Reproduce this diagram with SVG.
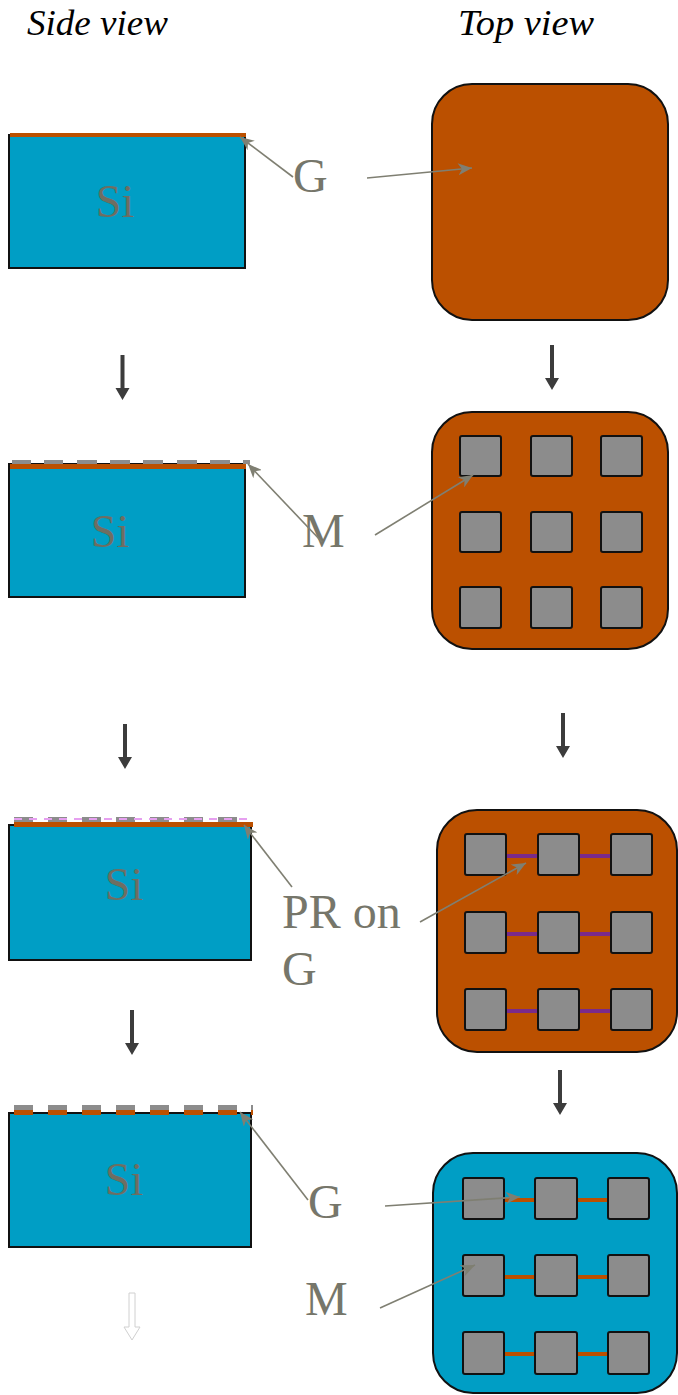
<svg xmlns="http://www.w3.org/2000/svg" width="678" height="1395" viewBox="0 0 678 1395">
<defs>
<style>
.title{font-family:"Liberation Serif",serif;font-style:italic;font-size:36px;fill:#000}
.si{font-family:"Liberation Serif",serif;font-size:46px;fill:#6e6e62;text-anchor:middle}
.lbl{font-family:"Liberation Serif",serif;font-size:48px;fill:#76766a}
.sub{fill:#009ec5;stroke:#111;stroke-width:2}
.brown{fill:#bb5000}
.greyd{fill:#8c8c8c}
.wafer-b{fill:#bb5000;stroke:#111;stroke-width:2}
.wafer-s{fill:#009ec5;stroke:#111;stroke-width:2}
.sq{fill:#8c8c8c;stroke:#111;stroke-width:2}
.pl{stroke:#7a2a8a;stroke-width:4}
.ol{stroke:#bb5000;stroke-width:4}
.ann{stroke:#7f7f72;stroke-width:1.6;fill:none;marker-end:url(#ah)}
.down{fill:#3c3c3c}
</style>
<marker id="ah" markerUnits="userSpaceOnUse" markerWidth="16" markerHeight="12" refX="14" refY="6" orient="auto">
<path d="M0,0 L14,6 L0,12 L4,6 z" fill="#7f7f72"/>
</marker>
<path id="dn" d="M-2,0 H2 V33 H7 L0,45 L-7,33 H-2 z"/>
</defs>

<text class="title" x="27" y="35" textLength="141" lengthAdjust="spacingAndGlyphs">Side view</text>
<text class="title" x="458" y="35" textLength="136" lengthAdjust="spacingAndGlyphs">Top view</text>

<g id="side1">
<rect class="sub" x="9" y="135" width="236" height="133"/>
<rect class="brown" x="10" y="133" width="236" height="4"/>
<text class="si" x="115" y="217">Si</text>
</g>
<g id="top1">
<rect class="wafer-b" x="432" y="84" width="236" height="236" rx="40"/>
</g>

<g id="side2">
<rect class="sub" x="9" y="464" width="236" height="133"/>
<rect class="brown" x="10" y="464" width="236" height="5"/>
<g class="greyd">
<rect x="12" y="460" width="19" height="4"/><rect x="44" y="460" width="19" height="4"/><rect x="77" y="460" width="20" height="4"/><rect x="110" y="460" width="20" height="4"/><rect x="143" y="460" width="20" height="4"/><rect x="177" y="460" width="20" height="4"/><rect x="210" y="460" width="20" height="4"/><rect x="243" y="460" width="7" height="4"/>
</g>
<text class="si" x="110" y="547">Si</text>
</g>
<g id="top2">
<rect class="wafer-b" x="432" y="412" width="236" height="237" rx="40"/>
<rect class="sq" x="460" y="436" width="41" height="40" rx="2"/><rect class="sq" x="531" y="436" width="41" height="40" rx="2"/><rect class="sq" x="601" y="436" width="41" height="40" rx="2"/>
<rect class="sq" x="460" y="512" width="41" height="40" rx="2"/><rect class="sq" x="531" y="512" width="41" height="40" rx="2"/><rect class="sq" x="601" y="512" width="41" height="40" rx="2"/>
<rect class="sq" x="460" y="587" width="41" height="41" rx="2"/><rect class="sq" x="531" y="587" width="41" height="41" rx="2"/><rect class="sq" x="601" y="587" width="41" height="41" rx="2"/>
</g>

<g id="side3">
<rect class="sub" x="9" y="825" width="242" height="135"/>
<rect class="brown" x="14" y="822" width="239" height="5"/>
<g class="greyd">
<rect x="14" y="817" width="19" height="5"/><rect x="48" y="817" width="19" height="5"/><rect x="82" y="817" width="19" height="5"/><rect x="116" y="817" width="19" height="5"/><rect x="150" y="817" width="19" height="5"/><rect x="184" y="817" width="19" height="5"/><rect x="218" y="817" width="19" height="5"/>
</g>
<line x1="14" y1="819" x2="253" y2="819" stroke="#e6a0f0" stroke-width="2" stroke-dasharray="8 7"/>
<text class="si" x="124" y="900">Si</text>
</g>
<g id="top3">
<rect class="wafer-b" x="437" y="810" width="240" height="242" rx="40"/>
<line class="pl" x1="505" y1="856" x2="539" y2="856"/><line class="pl" x1="577" y1="856" x2="611" y2="856"/>
<line class="pl" x1="507" y1="934" x2="541" y2="934"/><line class="pl" x1="580" y1="934" x2="613" y2="934"/>
<line class="pl" x1="507" y1="1011" x2="541" y2="1011"/><line class="pl" x1="580" y1="1011" x2="613" y2="1011"/>
<rect class="sq" x="465" y="834" width="41" height="41" rx="2"/><rect class="sq" x="538" y="834" width="41" height="41" rx="2"/><rect class="sq" x="611" y="834" width="41" height="41" rx="2"/>
<rect class="sq" x="465" y="912" width="41" height="41" rx="2"/><rect class="sq" x="538" y="912" width="41" height="41" rx="2"/><rect class="sq" x="611" y="912" width="41" height="41" rx="2"/>
<rect class="sq" x="465" y="989" width="41" height="41" rx="2"/><rect class="sq" x="538" y="989" width="41" height="41" rx="2"/><rect class="sq" x="611" y="989" width="41" height="41" rx="2"/>
</g>

<g id="side4">
<rect class="sub" x="9" y="1113" width="242" height="134"/>
<g class="brown">
<rect x="14" y="1110" width="19" height="5"/><rect x="48" y="1110" width="19" height="5"/><rect x="82" y="1110" width="19" height="5"/><rect x="116" y="1110" width="19" height="5"/><rect x="150" y="1110" width="19" height="5"/><rect x="184" y="1110" width="19" height="5"/><rect x="218" y="1110" width="19" height="5"/><rect x="251" y="1110" width="2" height="5"/>
</g>
<g class="greyd">
<rect x="14" y="1105" width="19" height="5"/><rect x="48" y="1105" width="19" height="5"/><rect x="82" y="1105" width="19" height="5"/><rect x="116" y="1105" width="19" height="5"/><rect x="150" y="1105" width="19" height="5"/><rect x="184" y="1105" width="19" height="5"/><rect x="218" y="1105" width="19" height="5"/><rect x="251" y="1105" width="2" height="5"/>
</g>
<text class="si" x="124" y="1195">Si</text>
</g>
<g id="top4">
<rect class="wafer-s" x="433" y="1153" width="244" height="240" rx="40"/>
<line class="ol" x1="503" y1="1200" x2="536" y2="1200"/><line class="ol" x1="576" y1="1200" x2="608" y2="1200"/>
<line class="ol" x1="503" y1="1277" x2="536" y2="1277"/><line class="ol" x1="576" y1="1277" x2="608" y2="1277"/>
<line class="ol" x1="503" y1="1354" x2="536" y2="1354"/><line class="ol" x1="576" y1="1354" x2="608" y2="1354"/>
<rect class="sq" x="463" y="1178" width="41" height="41" rx="2"/><rect class="sq" x="535" y="1178" width="42" height="41" rx="2"/><rect class="sq" x="608" y="1178" width="41" height="41" rx="2"/>
<rect class="sq" x="463" y="1255" width="41" height="41" rx="2"/><rect class="sq" x="535" y="1255" width="42" height="41" rx="2"/><rect class="sq" x="608" y="1255" width="41" height="41" rx="2"/>
<rect class="sq" x="463" y="1332" width="41" height="42" rx="2"/><rect class="sq" x="535" y="1332" width="42" height="42" rx="2"/><rect class="sq" x="608" y="1332" width="41" height="42" rx="2"/>
</g>

<g id="labels">
<text class="lbl" x="293" y="192">G</text>
<text class="lbl" x="302" y="547">M</text>
<text class="lbl" x="282" y="928">PR on</text>
<text class="lbl" x="282" y="985">G</text>
<text class="lbl" x="308" y="1218">G</text>
<text class="lbl" x="305" y="1315">M</text>
</g>

<g id="connectors">
<line class="ann" x1="293" y1="177" x2="240" y2="137"/>
<line class="ann" x1="367" y1="178" x2="472" y2="168"/>
<line class="ann" x1="322" y1="542" x2="248" y2="464"/>
<line class="ann" x1="375" y1="535" x2="473" y2="475"/>
<line class="ann" x1="292" y1="887" x2="244" y2="825"/>
<line class="ann" x1="420" y1="922" x2="526" y2="863"/>
<line class="ann" x1="308" y1="1200" x2="240" y2="1112"/>
<line class="ann" x1="385" y1="1206" x2="520" y2="1197"/>
<line class="ann" x1="380" y1="1308" x2="475" y2="1265"/>
<use href="#dn" class="down" x="122.5" y="355"/>
<use href="#dn" class="down" x="552" y="345"/>
<use href="#dn" class="down" x="125" y="724"/>
<use href="#dn" class="down" x="563" y="713"/>
<use href="#dn" class="down" x="132" y="1010"/>
<use href="#dn" class="down" x="560" y="1070"/>
<path d="M129,1293 H135 V1327 H140 L132,1340 L124,1327 H129 z" fill="#fff" stroke="#d0d0d0" stroke-width="1"/>
</g>
</svg>
